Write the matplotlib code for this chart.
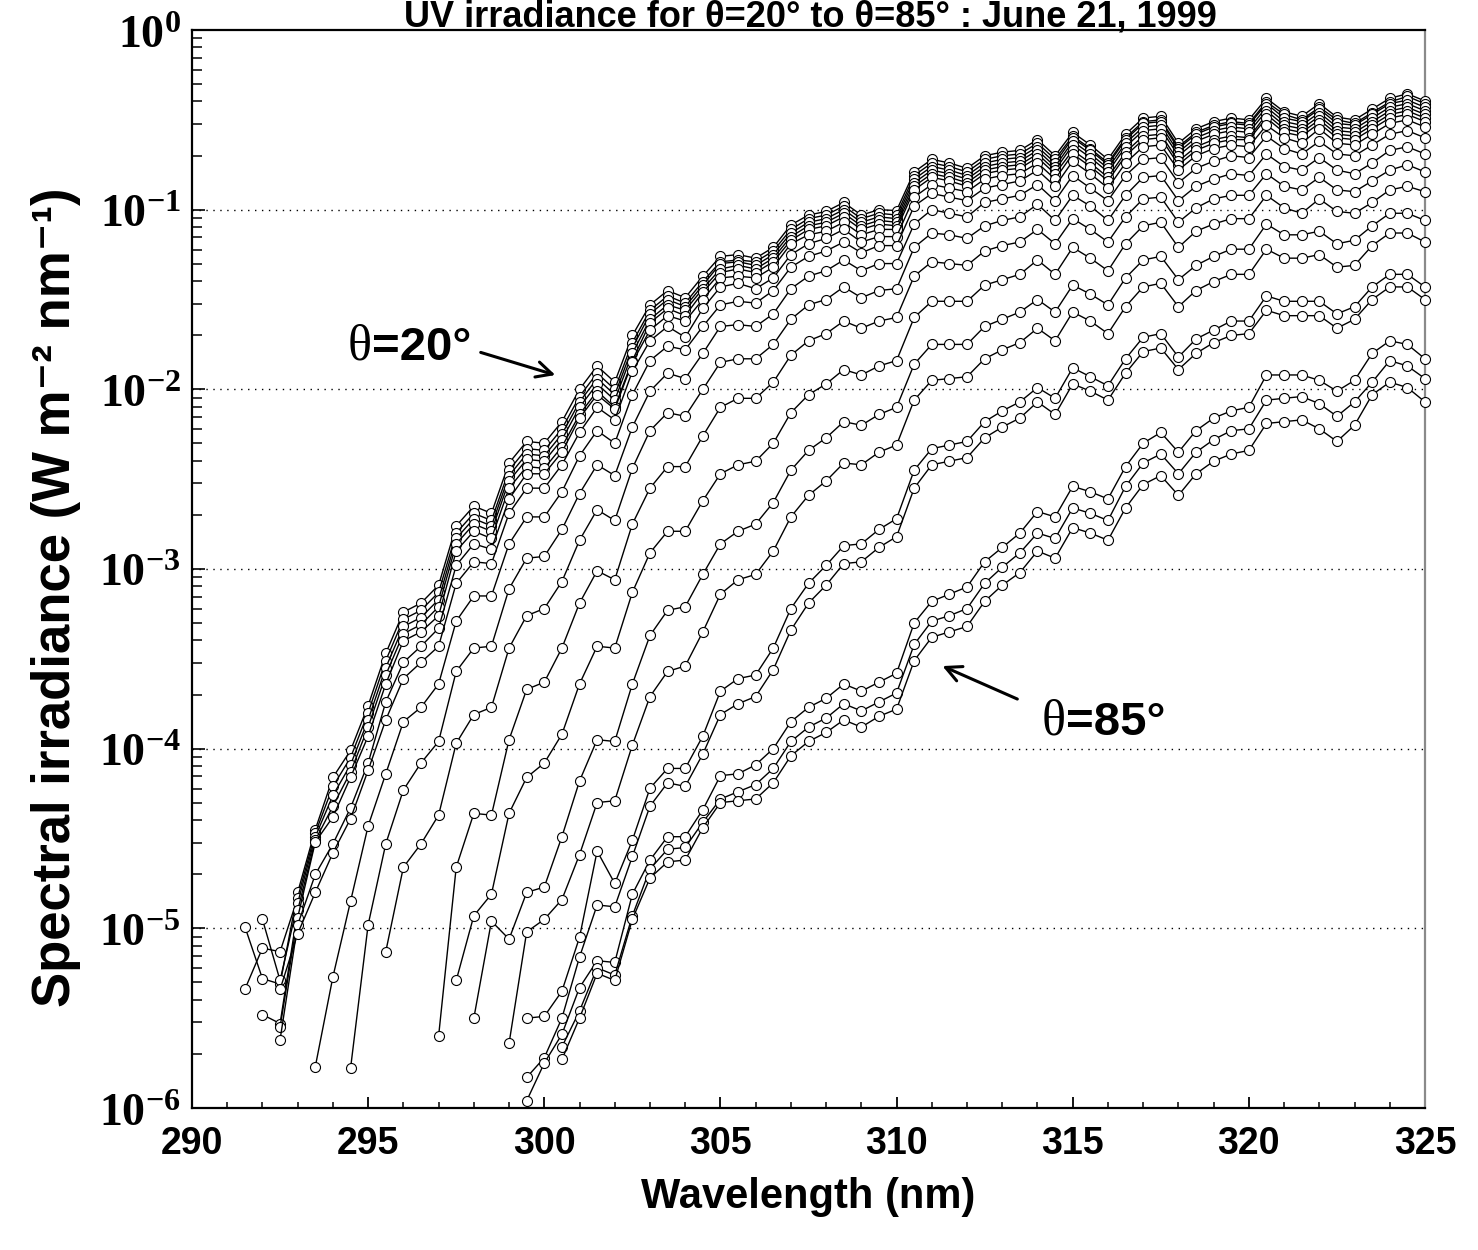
import matplotlib
matplotlib.use("Agg")
import matplotlib.pyplot as plt
from matplotlib.ticker import FixedLocator, NullFormatter, LogLocator

plt.rcParams['mathtext.fontset'] = 'custom'
plt.rcParams['mathtext.rm'] = 'Liberation Serif'
plt.rcParams['mathtext.bf'] = 'Liberation Serif:bold'
plt.rcParams['mathtext.it'] = 'Liberation Serif:italic'

# wavelength grid (nm); every series ends at 325 nm
wavelengths = [291.5, 292.0, 292.5, 293.0, 293.5, 294.0, 294.5, 295.0, 295.5, 296.0,
               296.5, 297.0, 297.5, 298.0, 298.5, 299.0, 299.5, 300.0, 300.5, 301.0,
               301.5, 302.0, 302.5, 303.0, 303.5, 304.0, 304.5, 305.0, 305.5, 306.0,
               306.5, 307.0, 307.5, 308.0, 308.5, 309.0, 309.5, 310.0, 310.5, 311.0,
               311.5, 312.0, 312.5, 313.0, 313.5, 314.0, 314.5, 315.0, 315.5, 316.0,
               316.5, 317.0, 317.5, 318.0, 318.5, 319.0, 319.5, 320.0, 320.5, 321.0,
               321.5, 322.0, 322.5, 323.0, 323.5, 324.0, 324.5, 325.0]

# log10 of spectral irradiance (W m-2 nm-1), one list per spectrum
irr_log10_01 = [-4.99, -5.28, -5.31, -4.80, -4.45, -4.16, -4.01, -3.76, -3.47, -3.24,
                -3.19, -3.09, -2.76, -2.65, -2.69, -2.41, -2.29, -2.30, -2.18, -2.00,
                -1.87, -1.96, -1.70, -1.53, -1.45, -1.49, -1.37, -1.26, -1.25, -1.27,
                -1.21, -1.085, -1.03, -1.01, -0.96, -1.03, -1.00, -1.005, -0.79, -0.72,
                -0.74, -0.77, -0.70, -0.68, -0.67, -0.61, -0.70, -0.57, -0.64, -0.72,
                -0.58, -0.49, -0.48, -0.63, -0.55, -0.51, -0.49, -0.50, -0.38, -0.455,
                -0.48, -0.41, -0.485, -0.50, -0.44, -0.38, -0.355, -0.395]
irr_log10_02 = [-5.34, -5.11, -5.13, -4.83, -4.47, -4.21, -4.05, -3.80, -3.51, -3.28,
                -3.23, -3.13, -2.80, -2.69, -2.73, -2.45, -2.33, -2.34, -2.22, -2.04,
                -1.91, -2.00, -1.74, -1.56, -1.48, -1.52, -1.40, -1.29, -1.28, -1.29,
                -1.23, -1.11, -1.05, -1.03, -0.98, -1.05, -1.02, -1.03, -0.81, -0.74,
                -0.76, -0.79, -0.72, -0.70, -0.69, -0.63, -0.72, -0.59, -0.66, -0.74,
                -0.60, -0.51, -0.50, -0.65, -0.57, -0.53, -0.51, -0.52, -0.40, -0.47,
                -0.50, -0.43, -0.50, -0.52, -0.46, -0.40, -0.37, -0.41]
irr_log10_03 = [-4.95, -5.29, -4.86, -4.49, -4.26, -4.09, -3.84, -3.55, -3.32,
                -3.27, -3.17, -2.83, -2.72, -2.76, -2.48, -2.36, -2.37, -2.25, -2.07,
                -1.94, -2.03, -1.77, -1.58, -1.50, -1.54, -1.42, -1.30, -1.29, -1.31,
                -1.25, -1.13, -1.07, -1.05, -1.00, -1.07, -1.04, -1.05, -0.83, -0.76,
                -0.78, -0.81, -0.74, -0.72, -0.71, -0.65, -0.74, -0.60, -0.67, -0.75,
                -0.61, -0.52, -0.51, -0.66, -0.58, -0.54, -0.52, -0.53, -0.41, -0.49,
                -0.51, -0.44, -0.52, -0.53, -0.47, -0.41, -0.39, -0.43]
irr_log10_04 = [-5.48, -5.53, -4.90, -4.51, -4.32, -4.13, -3.88, -3.59, -3.36,
                -3.31, -3.21, -2.86, -2.75, -2.79, -2.51, -2.39, -2.40, -2.28, -2.10,
                -1.97, -2.06, -1.80, -1.61, -1.53, -1.56, -1.44, -1.33, -1.31, -1.33,
                -1.27, -1.15, -1.09, -1.07, -1.02, -1.09, -1.06, -1.07, -0.85, -0.78,
                -0.80, -0.83, -0.76, -0.74, -0.73, -0.67, -0.76, -0.62, -0.69, -0.77,
                -0.63, -0.54, -0.53, -0.68, -0.60, -0.56, -0.54, -0.55, -0.43, -0.51,
                -0.53, -0.46, -0.54, -0.55, -0.49, -0.43, -0.41, -0.45]
irr_log10_05 = [-5.55, -4.94, -4.52, -4.38, -4.16, -3.93, -3.64, -3.40,
                -3.35, -3.26, -2.90, -2.79, -2.83, -2.55, -2.43, -2.44, -2.32, -2.14,
                -2.01, -2.10, -1.84, -1.63, -1.55, -1.59, -1.46, -1.35, -1.33, -1.35,
                -1.29, -1.17, -1.11, -1.09, -1.04, -1.11, -1.08, -1.09, -0.87, -0.80,
                -0.82, -0.85, -0.78, -0.76, -0.75, -0.69, -0.78, -0.64, -0.71, -0.79,
                -0.65, -0.56, -0.55, -0.70, -0.62, -0.58, -0.56, -0.57, -0.45, -0.53,
                -0.55, -0.48, -0.56, -0.57, -0.51, -0.45, -0.43, -0.47]
irr_log10_06 = [-5.62, -4.98, -4.70, -4.53, -4.33, -4.08, -3.74, -3.52,
                -3.43, -3.33, -2.98, -2.86, -2.89, -2.61, -2.47, -2.47, -2.35, -2.16,
                -2.03, -2.11, -1.85, -1.67, -1.59, -1.62, -1.50, -1.38, -1.37, -1.38,
                -1.32, -1.19, -1.14, -1.12, -1.07, -1.14, -1.11, -1.11, -0.89, -0.82,
                -0.84, -0.87, -0.80, -0.78, -0.77, -0.71, -0.80, -0.67, -0.74, -0.82,
                -0.68, -0.59, -0.58, -0.73, -0.65, -0.61, -0.59, -0.60, -0.47, -0.55,
                -0.57, -0.50, -0.58, -0.59, -0.53, -0.47, -0.45, -0.49]
irr_log10_07 = [-5.34, -5.03, -4.80, -4.58, -4.39, -4.12, -3.84, -3.61,
                -3.52, -3.43, -3.08, -2.96, -2.97, -2.69, -2.55, -2.55, -2.42, -2.24,
                -2.10, -2.17, -1.90, -1.73, -1.65, -1.71, -1.55, -1.43, -1.41, -1.44,
                -1.38, -1.25, -1.19, -1.16, -1.11, -1.18, -1.15, -1.15, -0.93, -0.86,
                -0.88, -0.90, -0.83, -0.81, -0.80, -0.74, -0.83, -0.69, -0.76, -0.84,
                -0.70, -0.61, -0.60, -0.75, -0.67, -0.63, -0.61, -0.61, -0.49, -0.57,
                -0.59, -0.52, -0.60, -0.61, -0.55, -0.49, -0.47, -0.51]
irr_log10_08 = [-5.77, -5.27, -4.85, -4.43, -4.14, -3.85,
                -3.77, -3.64, -3.29, -3.15, -3.15, -2.86, -2.71, -2.71, -2.57, -2.37,
                -2.23, -2.30, -2.03, -1.84, -1.76, -1.78, -1.65, -1.53, -1.51, -1.52,
                -1.45, -1.32, -1.26, -1.23, -1.18, -1.24, -1.20, -1.20, -0.98, -0.91,
                -0.93, -0.95, -0.88, -0.86, -0.84, -0.78, -0.87, -0.73, -0.80, -0.88,
                -0.74, -0.65, -0.64, -0.78, -0.70, -0.66, -0.64, -0.65, -0.53, -0.60,
                -0.63, -0.55, -0.63, -0.64, -0.58, -0.52, -0.50, -0.54]
irr_log10_09 = [-5.78, -4.98, -4.53, -4.23,
                -4.08, -3.96, -3.57, -3.44, -3.43, -3.11, -2.94, -2.93, -2.78, -2.58,
                -2.42, -2.48, -2.21, -2.01, -1.91, -1.94, -1.80, -1.65, -1.64, -1.65,
                -1.58, -1.44, -1.37, -1.34, -1.28, -1.34, -1.30, -1.30, -1.08, -1.00,
                -1.02, -1.04, -0.96, -0.94, -0.92, -0.86, -0.95, -0.81, -0.88, -0.95,
                -0.81, -0.72, -0.71, -0.85, -0.77, -0.73, -0.70, -0.71, -0.59, -0.66,
                -0.69, -0.62, -0.69, -0.70, -0.64, -0.58, -0.56, -0.60]
irr_log10_10 = [-5.13, -4.66,
                -4.53, -4.37, -3.97, -3.81, -3.77, -3.44, -3.26, -3.22, -3.07, -2.84,
                -2.67, -2.73, -2.44, -2.23, -2.13, -2.15, -2.00, -1.85, -1.83, -1.83,
                -1.75, -1.61, -1.53, -1.50, -1.43, -1.49, -1.45, -1.44, -1.21, -1.13,
                -1.14, -1.16, -1.09, -1.06, -1.04, -0.97, -1.06, -0.92, -0.98, -1.06,
                -0.92, -0.82, -0.81, -0.95, -0.87, -0.83, -0.80, -0.81, -0.69, -0.76,
                -0.78, -0.71, -0.78, -0.80, -0.74, -0.67, -0.65, -0.69]
irr_log10_11 = [-5.60, -4.66, -4.36, -4.37, -3.95, -3.67, -3.63, -3.44, -3.19,
                -3.01, -3.06, -2.75, -2.55, -2.43, -2.43, -2.26, -2.10, -2.05, -2.05,
                -1.96, -1.81, -1.73, -1.69, -1.62, -1.66, -1.62, -1.60, -1.37, -1.29,
                -1.30, -1.31, -1.23, -1.20, -1.18, -1.11, -1.19, -1.05, -1.11, -1.18,
                -1.04, -0.94, -0.93, -1.07, -0.99, -0.94, -0.92, -0.92, -0.80, -0.87,
                -0.89, -0.82, -0.89, -0.90, -0.84, -0.78, -0.75, -0.79]
irr_log10_12 = [-5.29, -4.93, -4.81, -4.36, -4.16, -4.08, -3.92, -3.64,
                -3.43, -3.44, -3.13, -2.91, -2.79, -2.79, -2.62, -2.47, -2.42, -2.40,
                -2.30, -2.13, -2.03, -1.97, -1.89, -1.92, -1.87, -1.84, -1.60, -1.51,
                -1.51, -1.51, -1.42, -1.39, -1.36, -1.28, -1.36, -1.21, -1.27, -1.34,
                -1.19, -1.09, -1.07, -1.21, -1.12, -1.08, -1.05, -1.05, -0.92, -0.99,
                -1.02, -0.94, -1.01, -1.02, -0.96, -0.89, -0.87, -0.90]
irr_log10_13 = [-5.50, -4.96, -5.06, -4.80, -4.77, -4.49, -4.18,
                -3.95, -3.96, -3.64, -3.37, -3.23, -3.21, -3.03, -2.86, -2.79, -2.75,
                -2.63, -2.45, -2.34, -2.27, -2.18, -2.20, -2.14, -2.10, -1.86, -1.75,
                -1.75, -1.75, -1.65, -1.61, -1.57, -1.50, -1.57, -1.42, -1.47, -1.53,
                -1.38, -1.28, -1.26, -1.39, -1.31, -1.26, -1.22, -1.22,
                -1.08, -1.14, -1.14, -1.12, -1.19, -1.17, -1.09, -1.02, -1.02, -1.06]
irr_log10_14 = [-5.64, -5.02, -4.95, -4.84, -4.59,
                -4.30, -4.29, -3.98, -3.71, -3.57, -3.54, -3.35, -3.14, -3.06, -3.03,
                -2.90, -2.71, -2.59, -2.51, -2.41, -2.42, -2.35, -2.31, -2.06, -1.95,
                -1.94, -1.93, -1.83, -1.78, -1.74, -1.66, -1.73, -1.57, -1.62, -1.69,
                -1.54, -1.43, -1.41, -1.54, -1.45, -1.40, -1.36, -1.36,
                -1.22, -1.27, -1.27, -1.25, -1.32, -1.31, -1.20, -1.13, -1.13, -1.18]
irr_log10_15 = [-5.50, -5.49, -5.35, -5.05,
                -4.57, -4.75, -4.51, -4.22, -4.11, -4.11, -3.93, -3.68, -3.61, -3.59,
                -3.44, -3.22, -3.08, -2.98, -2.87, -2.86, -2.78, -2.72, -2.45, -2.33,
                -2.31, -2.29, -2.18, -2.12, -2.07, -1.99, -2.05, -1.88, -1.93, -1.98,
                -1.83, -1.71, -1.69, -1.82, -1.72, -1.67, -1.62, -1.62,
                -1.48, -1.51, -1.51, -1.51, -1.58, -1.54, -1.43, -1.36, -1.36, -1.43]
irr_log10_16 = [-5.83, -5.72, -5.50, -5.16,
                -4.87, -4.88, -4.60, -4.32, -4.19, -4.21, -4.03, -3.81, -3.75, -3.71,
                -3.56, -3.34, -3.19, -3.09, -2.97, -2.96, -2.88, -2.82, -2.55, -2.42,
                -2.40, -2.38, -2.27, -2.21, -2.16, -2.07, -2.14, -1.97, -2.01, -2.06,
                -1.91, -1.79, -1.77, -1.89, -1.80, -1.74, -1.70, -1.69,
                -1.56, -1.59, -1.59, -1.59, -1.66, -1.61, -1.50, -1.43, -1.43, -1.50]
irr_log10_17 = [-5.96, -5.75, -5.59, -5.33,
                -5.18, -5.19, -4.81, -4.62, -4.49, -4.49, -4.34, -4.15, -4.14, -4.09,
                -4.00, -3.85, -3.77, -3.72, -3.64, -3.68, -3.63, -3.58, -3.30, -3.18,
                -3.14, -3.10, -2.96, -2.88, -2.80, -2.68, -2.71, -2.54, -2.57, -2.61,
                -2.43, -2.30, -2.24, -2.35, -2.23, -2.16, -2.12, -2.10,
                -1.92, -1.92, -1.92, -1.95, -2.01, -1.95, -1.80, -1.73, -1.75, -1.83]
irr_log10_18 = [-5.66, -5.46,
                -5.22, -5.26, -4.93, -4.67, -4.56, -4.55, -4.41, -4.28, -4.24, -4.20,
                -4.11, -3.96, -3.88, -3.83, -3.75, -3.79, -3.74, -3.69, -3.42, -3.29,
                -3.26, -3.22, -3.08, -2.99, -2.91, -2.80, -2.83, -2.66, -2.69, -2.73,
                -2.54, -2.41, -2.36, -2.47, -2.35, -2.28, -2.23, -2.22,
                -2.06, -2.05, -2.04, -2.08, -2.15, -2.07, -1.96, -1.84, -1.87, -1.94]
irr_log10_19 = [-5.73, -5.50,
                -5.25, -5.29, -4.95, -4.72, -4.63, -4.62, -4.44, -4.30, -4.29, -4.28,
                -4.19, -4.04, -3.96, -3.91, -3.84, -3.88, -3.82, -3.78, -3.51, -3.38,
                -3.35, -3.32, -3.18, -3.09, -3.02, -2.90, -2.94, -2.77, -2.80, -2.84,
                -2.66, -2.53, -2.48, -2.59, -2.47, -2.40, -2.36, -2.34,
                -2.19, -2.18, -2.17, -2.22, -2.29, -2.20, -2.03, -1.96, -1.99, -2.07]

spectra = [irr_log10_01, irr_log10_02, irr_log10_03, irr_log10_04, irr_log10_05,
           irr_log10_06, irr_log10_07, irr_log10_08, irr_log10_09, irr_log10_10,
           irr_log10_11, irr_log10_12, irr_log10_13, irr_log10_14, irr_log10_15,
           irr_log10_16, irr_log10_17, irr_log10_18, irr_log10_19]

x_ticks = [290, 295, 300, 305, 310, 315, 320, 325]
y_decades = [1e-6, 1e-5, 1e-4, 1e-3, 1e-2, 1e-1, 1e0]
y_tick_labels = [r'$\mathbf{10^{-6}}$', r'$\mathbf{10^{-5}}$', r'$\mathbf{10^{-4}}$',
                 r'$\mathbf{10^{-3}}$', r'$\mathbf{10^{-2}}$', r'$\mathbf{10^{-1}}$',
                 r'$\mathbf{10^{0}}$']
grid_levels = [1e-5, 1e-4, 1e-3, 1e-2, 1e-1]

W, H = 1478, 1250
fig = plt.figure(figsize=(W / 100, H / 100), dpi=100)
ax = fig.add_axes([192 / W, 1 - 1108 / H, (1425 - 192) / W, (1108 - 30) / H])
ax.set_yscale('log')
ax.set_xlim(290, 325)
ax.set_ylim(1e-6, 1)

for lev in grid_levels:
    ax.axhline(lev, color='black', lw=1.0, ls=(0, (1, 4)), zorder=1)

for vals in spectra:
    n = len(vals)
    xs = wavelengths[-n:]
    ys = [10 ** v for v in vals]
    ax.plot(xs, ys, color='black', lw=1.0, marker='o', ms=7.2,
            mfc='white', mec='black', mew=0.8, clip_on=False, zorder=3)

# axes frame
for side in ['left', 'bottom', 'top']:
    ax.spines[side].set_linewidth(1.6)
    ax.spines[side].set_color('black')
ax.spines['right'].set_linewidth(1.6)
ax.spines['right'].set_color('#8a8a8a')

ax.set_xticks(x_ticks)
ax.set_xticklabels([str(t) for t in x_ticks])
ax.xaxis.set_minor_locator(FixedLocator([v for v in range(291, 325)]))
ax.tick_params(axis='x', which='major', direction='in', length=8, width=1.3,
               labelsize=27, pad=13, top=False)
ax.tick_params(axis='x', which='minor', direction='in', length=4.5, width=1.1, top=False)
for lbl in ax.get_xticklabels():
    lbl.set_fontfamily('Liberation Sans')
    lbl.set_fontweight('bold')

ax.set_yticks(y_decades)
ax.set_yticklabels(y_tick_labels)
ax.yaxis.set_minor_locator(LogLocator(base=10, subs=[2, 3, 4, 5, 6, 7, 8, 9], numticks=20))
ax.yaxis.set_minor_formatter(NullFormatter())
ax.tick_params(axis='y', which='major', direction='in', length=9, width=1.2,
               labelsize=33, pad=8, right=False)
ax.tick_params(axis='y', which='minor', direction='in', length=7, width=1.1, right=False)

# labels
sans = ['Liberation Sans', 'DejaVu Sans']
fig.text(56 / W, 1 - 597 / H, 'Spectral irradiance (W m\u207b\u00b2 nm\u207b\u00b9)',
         rotation=90, ha='center', va='center', fontsize=38, fontweight='bold', family=sans)
fig.text(808 / W, 1 - 1197 / H, 'Wavelength (nm)', ha='center', va='center',
         fontsize=30, fontweight='bold', family=sans)
fig.text(810 / W, 1 - 27 / H, 'UV irradiance for \u03b8=20\u00b0 to \u03b8=85\u00b0 : June 21, 1999',
         ha='center', va='baseline', fontsize=26, fontweight='bold', family=sans)

# annotations
ax.text(295.11, 10 ** -1.836, '\u03b8', ha='right', va='baseline', fontsize=36,
        family=['Liberation Serif', 'DejaVu Serif'])
ax.text(295.11, 10 ** -1.836, '=20\u00b0', ha='left', va='baseline', fontsize=34,
        fontweight='bold', family=sans)
ax.annotate('', xy=(300.39, 10 ** -1.925), xytext=(298.12, 10 ** -1.79),
            arrowprops=dict(arrowstyle='->', lw=2.2, color='black', mutation_scale=28))

ax.text(314.81, 10 ** -3.923, '\u03b8', ha='right', va='baseline', fontsize=36,
        family=['Liberation Serif', 'DejaVu Serif'])
ax.text(314.81, 10 ** -3.923, '=85\u00b0', ha='left', va='baseline', fontsize=34,
        fontweight='bold', family=sans)
ax.annotate('', xy=(311.23, 10 ** -3.534), xytext=(313.5, 10 ** -3.73),
            arrowprops=dict(arrowstyle='->', lw=2.2, color='black', mutation_scale=28))

fig.savefig('out.png', dpi=100)
